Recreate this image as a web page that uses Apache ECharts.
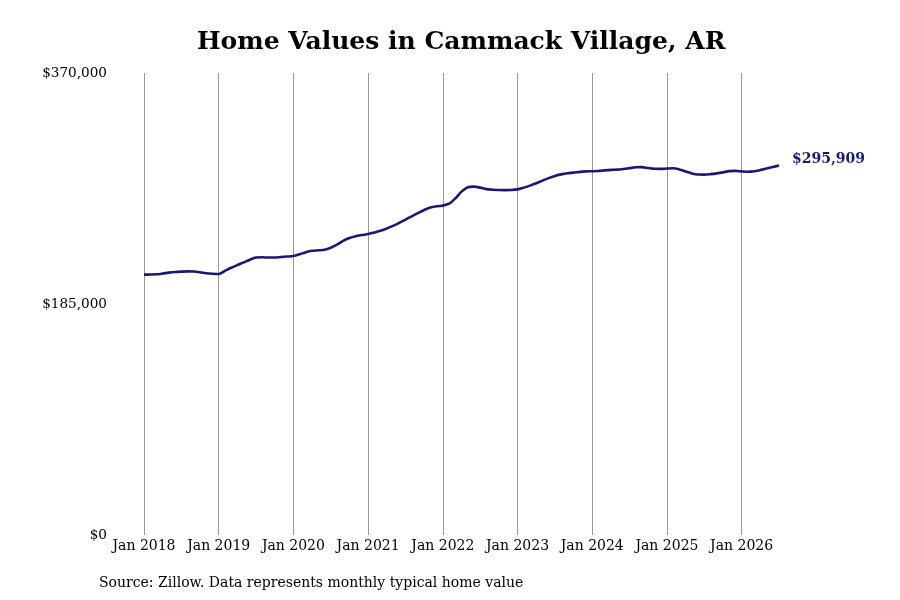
<!DOCTYPE html>
<html>
<head>
<meta charset="utf-8">
<script src="https://cdn.jsdelivr.net/npm/echarts@6/dist/echarts.min.js"></script>
<style>
  html, body { margin: 0; padding: 0; background: #fff; }
  #main { width: 900px; height: 600px; }
</style>
</head>
<body>
<div id="main"></div>
<script>
var years = [2018, 2019, 2020, 2021, 2022, 2023, 2024, 2025, 2026];
var monthNames = ['Jan','Feb','Mar','Apr','May','Jun','Jul','Aug','Sep','Oct','Nov','Dec'];

// typical home value, thousands of dollars, Jan 2018 .. Jul 2026
var values2018 = [208.5, 208.6, 208.8, 209.4, 210.1, 210.6, 210.9, 211.1, 211.0, 210.4, 209.6, 209.2];
var values2019 = [209.0, 211.5, 214.0, 216.2, 218.3, 220.5, 222.2, 222.4, 222.2, 222.2, 222.6, 223.0];
var values2020 = [223.4, 224.8, 226.5, 227.6, 228.0, 228.4, 230.0, 232.5, 235.6, 237.8, 239.3, 240.2];
var values2021 = [241.0, 242.3, 243.7, 245.5, 247.6, 250.0, 252.6, 255.2, 257.8, 260.3, 262.2, 263.3];
var values2022 = [263.8, 265.3, 269.5, 275.0, 278.5, 279.0, 278.2, 277.0, 276.5, 276.3, 276.2, 276.3];
var values2023 = [276.8, 278.2, 279.8, 281.7, 283.8, 285.8, 287.6, 288.8, 289.7, 290.2, 290.8, 291.2];
var values2024 = [291.3, 291.5, 292.0, 292.4, 292.6, 293.1, 293.8, 294.5, 294.6, 293.9, 293.3, 293.2];
var values2025 = [293.5, 293.7, 292.8, 291.2, 289.6, 288.7, 288.6, 289.0, 289.6, 290.4, 291.4, 291.6];
var values2026 = [291.2, 290.9, 291.3, 292.3, 293.5, 294.7, 295.909];

var yTicks = [0, 185000, 370000];

var allValues = [].concat(values2018, values2019, values2020, values2021, values2022,
                          values2023, values2024, values2025, values2026);
var months = [];
var data = [];
for (var i = 0; i < allValues.length; i++) {
  months.push(monthNames[i % 12] + ' ' + years[Math.floor(i / 12)]);
  data.push(Math.round(allValues[i] * 1000));
}

function money(v) {
  return '$' + v.toString().replace(/\B(?=(\d{3})+(?!\d))/g, ',');
}

var font = 'DejaVu Serif';
var myChart = echarts.init(document.getElementById('main'));
var option = {
  backgroundColor: '#fff',
  animation: false,
  title: {
    text: 'Home Values in Cammack Village, AR',
    left: 192,
    top: 25,
    textStyle: { fontFamily: font, fontSize: 25, fontWeight: 'bold', color: '#000' }
  },
  graphic: [{
    type: 'text',
    left: 99,
    top: 576,
    style: {
      text: 'Source: Zillow. Data represents monthly typical home value',
      font: '14px "DejaVu Serif"',
      fill: '#000'
    }
  }],
  grid: { left: 144, right: 121, top: 73, bottom: 65, containLabel: false },
  xAxis: {
    type: 'category',
    data: months,
    boundaryGap: false,
    axisLine: { show: false },
    axisTick: { show: false },
    axisLabel: {
      interval: function (idx) { return idx % 12 === 0; },
      fontFamily: font, fontSize: 14, color: '#000', margin: 4
    },
    splitLine: {
      show: true,
      interval: function (idx) { return idx % 12 === 0; },
      lineStyle: { color: '#999', width: 1 }
    }
  },
  yAxis: {
    type: 'value',
    min: yTicks[0],
    max: yTicks[2],
    interval: yTicks[1],
    axisLine: { show: false },
    axisTick: { show: false },
    splitLine: { show: false },
    axisLabel: {
      formatter: money,
      fontFamily: font, fontSize: 13.6, color: '#000', margin: 37,
      padding: [2, 0, 0, 0]
    }
  },
  series: [{
    type: 'line',
    data: data,
    smooth: 0.3,
    symbol: 'none',
    lineStyle: { color: '#191970', width: 2.6 },
    endLabel: {
      show: true,
      formatter: function (p) { return money(p.value); },
      fontFamily: font, fontSize: 14, fontWeight: 'bold', color: '#191970',
      distance: 13,
      offset: [0, -6]
    }
  }]
};
myChart.setOption(option);
</script>
</body>
</html>
